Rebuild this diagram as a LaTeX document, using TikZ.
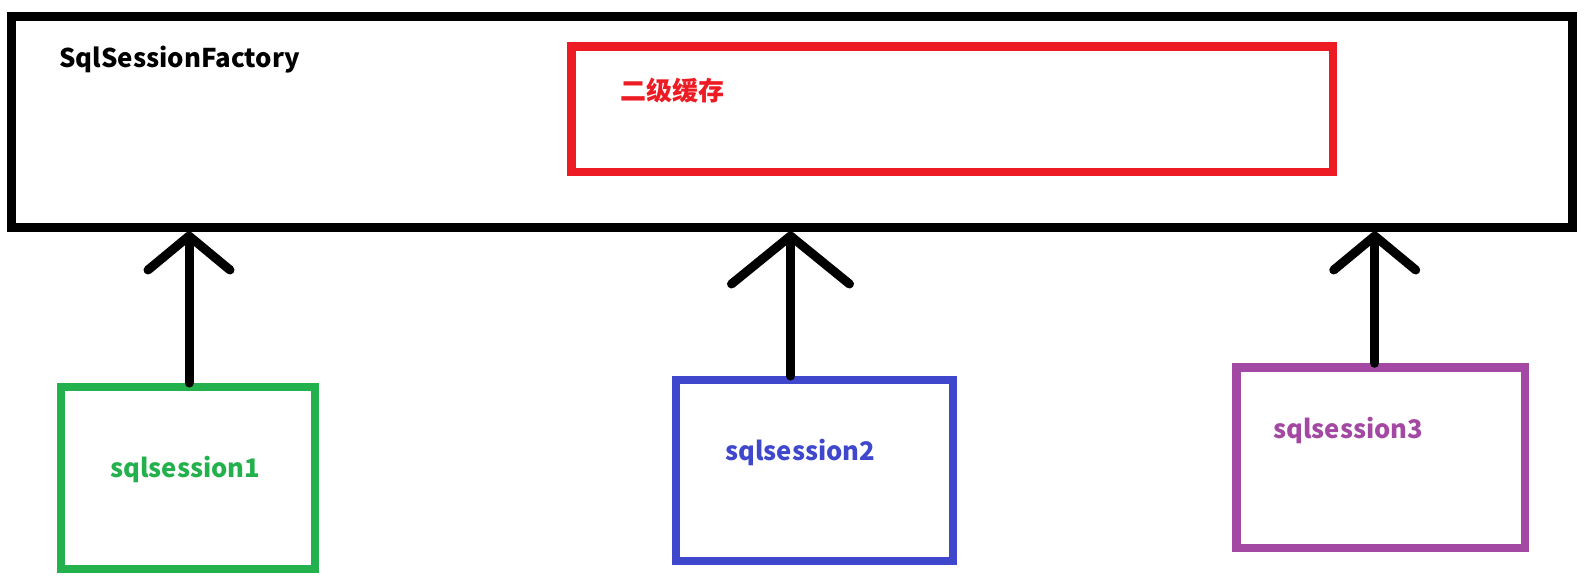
\documentclass[tikz,border=0pt]{standalone}
\usepackage{fontspec}
\setmainfont{Noto Sans CJK SC}
\usepackage{tikz}
\usetikzlibrary{positioning, calc, arrows.meta}

\definecolor{paintred}{RGB}{237,28,36}
\definecolor{paintgreen}{RGB}{34,177,76}
\definecolor{paintblue}{RGB}{63,72,204}
\definecolor{paintpurple}{RGB}{163,73,164}

\begin{document}
\begin{tikzpicture}[x=0.5pt, y=-0.5pt,
		box/.style = {draw, rectangle, inner sep=0pt, line width=4.25pt},
		title/.style = {anchor=base west, inner sep=0pt, font=\bfseries\fontsize{12.9}{15}\selectfont},
		session/.style = {anchor=base west, inner sep=0pt, font=\bfseries\fontsize{12.8}{15}\selectfont},
		flow/.style = {line width=4.5pt, line cap=round, -{Straight Barb[length=17pt, width=41pt, round]}}]
						\useasboundingbox (0,0) rectangle (1586,584);
						\node[box, line width=4.5pt, minimum width=780.75pt, minimum height=105.25pt] (factory) at (791.75,121.75) {};
						\node[box, paintred, minimum width=380.75pt, minimum height=62.75pt] (cache) at (952.25,109.25) {};
						\node[box, paintgreen, line width=4pt, minimum width=127pt, minimum height=91pt] (sess1) at (188,478) {};
						\node[box, paintblue, line width=4pt, minimum width=138.5pt, minimum height=90.5pt] (sess2) at (814.5,470.5) {};
						\node[box, paintpurple, minimum width=144.25pt, minimum height=90.25pt] (sess3) at (1380.75,457.75) {};

						\node[title] (factorytext) at (59,67) {SqlSessionFactory};
						\node[title, paintred, font=\bfseries\fontsize{13}{15}\selectfont] (cachetext) at (620,100) {二级缓存};
						\node[session, paintgreen] (sess1text) at (110,477) {sqlsession1};
						\node[session, paintblue] (sess2text) at (725,460) {sqlsession2};
						\node[session, paintpurple] (sess3text) at (1273,438) {sqlsession3};

						\draw[flow] ($(sess1.north)+(1,0)$) coordinate (up1) -- (up1 |- factory.south);
						\draw[flow, -{Straight Barb[length=24pt, width=59pt, round]}] ($(sess2.north)+(-24,0)$) coordinate (up2) -- (up2 |- factory.south);
						\draw[flow] ($(sess3.north)+(-6,0)$) coordinate (up3) -- (up3 |- factory.south);
				\end{tikzpicture}
\end{document}
